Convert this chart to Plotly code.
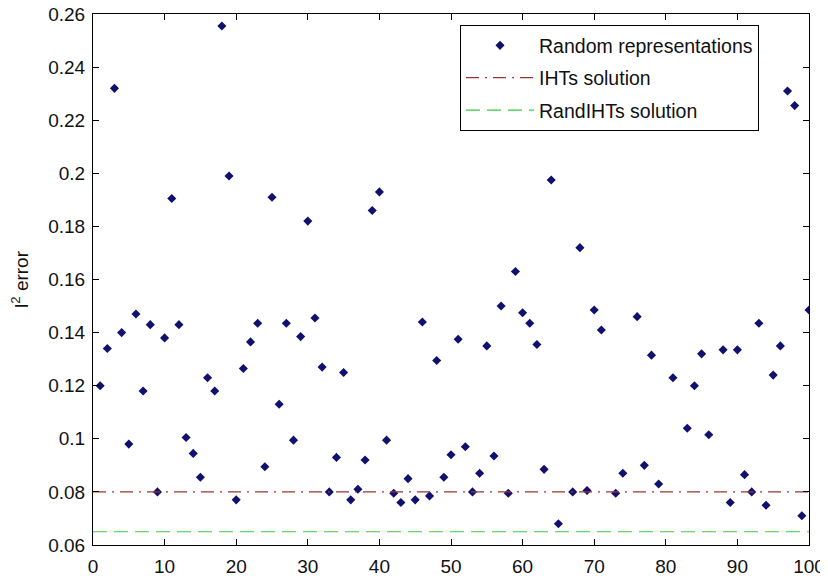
import plotly.graph_objects as go

# Random representations: index and l2 error (points above 0.26 are clipped in the original)
idx = [1,2,3,4,5,6,7,8,9,10,11,12,13,14,15,16,17,18,19,20,
       21,22,23,24,25,26,27,28,29,30,31,32,33,34,35,36,37,38,39,40,
       41,42,43,44,45,46,47,48,49,50,51,52,53,54,55,56,57,58,59,60,
       61,62,63,64,65,67,68,69,70,71,73,74,76,77,78,79,81,83,84,85,
       86,88,89,90,91,92,93,94,95,96,97,98,99,100]
err = [0.120,0.134,0.232,0.140,0.098,0.147,0.118,0.143,0.080,0.138,
       0.1905,0.143,0.1005,0.0945,0.0855,0.123,0.118,0.2555,0.199,0.077,
       0.1265,0.1365,0.1435,0.0895,0.191,0.113,0.1435,0.0995,0.1385,0.182,
       0.1455,0.127,0.080,0.093,0.125,0.077,0.081,0.092,0.186,0.193,
       0.0995,0.0795,0.076,0.085,0.077,0.144,0.0785,0.1295,0.0855,0.094,
       0.1375,0.097,0.080,0.087,0.135,0.0935,0.150,0.0795,0.163,0.1475,
       0.1435,0.1355,0.0885,0.1975,0.068,0.080,0.172,0.0805,0.1485,0.141,
       0.0795,0.087,0.146,0.090,0.1315,0.083,0.123,0.104,0.120,0.132,
       0.1015,0.1335,0.076,0.1335,0.0865,0.080,0.1435,0.075,0.124,0.135,
       0.231,0.2255,0.071,0.1485]

line_x = [0, 100]
iht_level = 0.080
randiht_level = 0.065

series_names = ["Random representations", "IHTs solution", "RandIHTs solution"]
x_ticks = [0, 10, 20, 30, 40, 50, 60, 70, 80, 90, 100]
y_ticks = [0.06, 0.08, 0.10, 0.12, 0.14, 0.16, 0.18, 0.20, 0.22, 0.24, 0.26]
y_tick_text = ["0.06", "0.08", "0.1", "0.12", "0.14", "0.16", "0.18", "0.2", "0.22", "0.24", "0.26"]

FONT = "Liberation Sans, Arial, Helvetica, sans-serif"

fig = go.Figure()
fig.add_trace(go.Scatter(
    x=idx, y=err, mode="markers", name=series_names[0], legendgroup="a",
    marker=dict(symbol="diamond", size=7, color="#10106e", line=dict(width=0)),
))
fig.add_trace(go.Scatter(
    x=line_x, y=[iht_level, iht_level], mode="lines", name=series_names[1], legendgroup="b",
    line=dict(color="#9a3535", width=1.2, dash="13px,6px,2px,6px"),
))
fig.add_trace(go.Scatter(
    x=line_x, y=[randiht_level, randiht_level], mode="lines", name=series_names[2], legendgroup="c",
    line=dict(color="#3ccc3c", width=1.2, dash="14px,7px"),
))

axis_common = dict(
    showgrid=False, zeroline=False, showline=True, linecolor="black", linewidth=1,
    mirror="ticks", ticks="inside", ticklen=6, tickcolor="black", tickwidth=1,
    tickfont=dict(family=FONT, size=19, color="#111111"), automargin=False,
    ticklabeloverflow="allow",
)

# page body has an 8px margin, so the figure is sized to fit the 828x579 window
fig.update_layout(
    width=820, height=571,
    margin=dict(l=85, r=19, t=6, b=34),
    paper_bgcolor="white", plot_bgcolor="white",
    font=dict(family=FONT, size=19, color="#111111"),
    showlegend=True,
    legend=dict(
        x=0.5126, y=0.979, xanchor="left", yanchor="top",
        bgcolor="white", bordercolor="black", borderwidth=1,
        font=dict(family=FONT, size=19.5, color="#111111"),
        itemwidth=68, tracegroupgap=4,
    ),
    xaxis=dict(range=[0, 100], tickvals=x_ticks, ticklabelstandoff=4, **axis_common),
    yaxis=dict(range=[0.06, 0.26], tickvals=y_ticks, ticktext=y_tick_text,
               ticklabelstandoff=3,
               title=dict(text="l<sup>2</sup> error", standoff=14,
                          font=dict(family=FONT, size=19, color="#111111")),
               **axis_common),
)

fig.write_html("out.html")
